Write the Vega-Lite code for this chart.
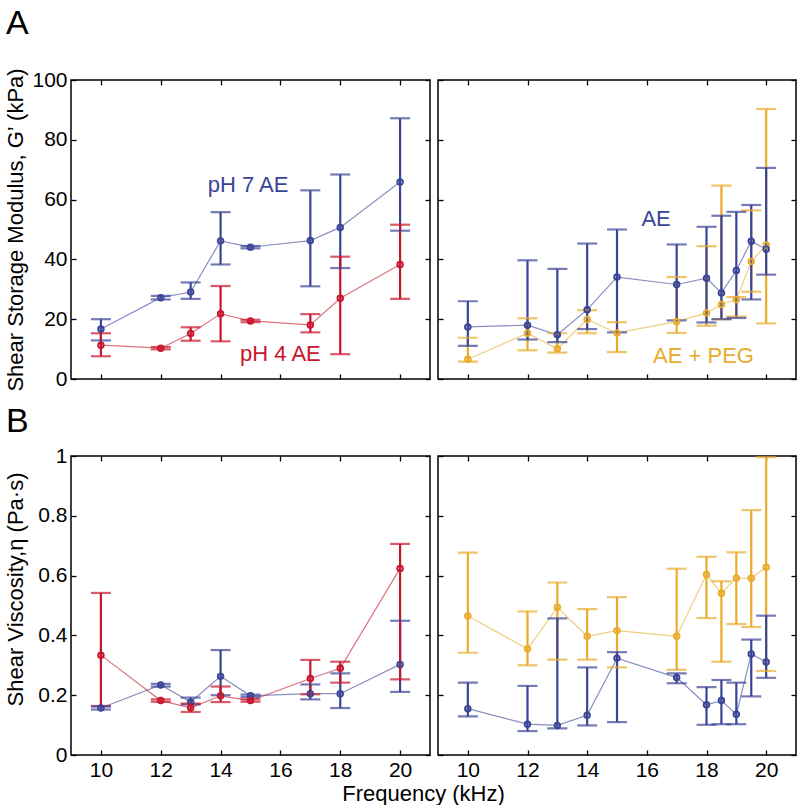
{
  "$schema": "https://vega.github.io/schema/vega-lite/v6.json",
  "background": "white",
  "padding": {"left": 3, "top": 6, "right": 0, "bottom": 0},
  "columns": 2,
  "spacing": {"row": 77, "column": 8},
  "bounds": "flush",
  "datasets": {
    "tl": [
      {"series": "pH 7 AE", "f": 10, "v": 16.7, "lo": 12.9, "hi": 20},
      {"series": "pH 7 AE", "f": 12, "v": 27.2, "lo": 26.6, "hi": 27.8},
      {"series": "pH 7 AE", "f": 13, "v": 29.1, "lo": 26.8, "hi": 32.3},
      {"series": "pH 7 AE", "f": 14, "v": 46.2, "lo": 38.3, "hi": 55.8},
      {"series": "pH 7 AE", "f": 15, "v": 44.1, "lo": 43.7, "hi": 44.5},
      {"series": "pH 7 AE", "f": 17, "v": 46.3, "lo": 31, "hi": 63.1},
      {"series": "pH 7 AE", "f": 18, "v": 50.7, "lo": 37.1, "hi": 68.4},
      {"series": "pH 7 AE", "f": 20, "v": 65.9, "lo": 49.6, "hi": 87.2},
      {"series": "pH 4 AE", "f": 10, "v": 11.3, "lo": 7.6, "hi": 15.3},
      {"series": "pH 4 AE", "f": 12, "v": 10.3, "lo": 9.9, "hi": 10.7},
      {"series": "pH 4 AE", "f": 13, "v": 15.2, "lo": 12.8, "hi": 17.3},
      {"series": "pH 4 AE", "f": 14, "v": 21.8, "lo": 12.6, "hi": 31.1},
      {"series": "pH 4 AE", "f": 15, "v": 19.4, "lo": 19, "hi": 19.8},
      {"series": "pH 4 AE", "f": 17, "v": 18.1, "lo": 15.6, "hi": 21.7},
      {"series": "pH 4 AE", "f": 18, "v": 27, "lo": 8.3, "hi": 40.9},
      {"series": "pH 4 AE", "f": 20, "v": 38.3, "lo": 26.8, "hi": 51.6}
    ],
    "tr": [
      {"series": "AE + PEG", "f": 10, "v": 6.6, "lo": 5.8, "hi": 13.8},
      {"series": "AE + PEG", "f": 12, "v": 15.3, "lo": 9.6, "hi": 20.3},
      {"series": "AE + PEG", "f": 13, "v": 10.1, "lo": 8.8, "hi": 15.3},
      {"series": "AE + PEG", "f": 14, "v": 19.9, "lo": 15.3, "hi": 23},
      {"series": "AE + PEG", "f": 15, "v": 15.4, "lo": 9, "hi": 19},
      {"series": "AE + PEG", "f": 17, "v": 19.2, "lo": 15.4, "hi": 34.1},
      {"series": "AE + PEG", "f": 18, "v": 22.1, "lo": 17.8, "hi": 44.4},
      {"series": "AE + PEG", "f": 18.5, "v": 24.9, "lo": 20, "hi": 64.7},
      {"series": "AE + PEG", "f": 19, "v": 26.6, "lo": 20.9, "hi": 27.4},
      {"series": "AE + PEG", "f": 19.5, "v": 39.3, "lo": 29.2, "hi": 56.4},
      {"series": "AE + PEG", "f": 20, "v": 44.8, "lo": 18.6, "hi": 90.3},
      {"series": "AE", "f": 10, "v": 17.4, "lo": 11.1, "hi": 26},
      {"series": "AE", "f": 12, "v": 18, "lo": 13.2, "hi": 39.7},
      {"series": "AE", "f": 13, "v": 14.8, "lo": 12.3, "hi": 36.8},
      {"series": "AE", "f": 14, "v": 23.2, "lo": 16.7, "hi": 45.3},
      {"series": "AE", "f": 15, "v": 34.1, "lo": 15.6, "hi": 50},
      {"series": "AE", "f": 17, "v": 31.6, "lo": 19.6, "hi": 45},
      {"series": "AE", "f": 18, "v": 33.7, "lo": 18.9, "hi": 50.9},
      {"series": "AE", "f": 18.5, "v": 28.8, "lo": 20, "hi": 54.6},
      {"series": "AE", "f": 19, "v": 36.3, "lo": 20.4, "hi": 55.9},
      {"series": "AE", "f": 19.5, "v": 46.1, "lo": 26.6, "hi": 58.2},
      {"series": "AE", "f": 20, "v": 43.4, "lo": 34.9, "hi": 70.6}
    ],
    "bl": [
      {"series": "pH 7 AE", "f": 10, "v": 0.157, "lo": 0.152, "hi": 0.162},
      {"series": "pH 7 AE", "f": 12, "v": 0.234, "lo": 0.229, "hi": 0.238},
      {"series": "pH 7 AE", "f": 13, "v": 0.177, "lo": 0.169, "hi": 0.192},
      {"series": "pH 7 AE", "f": 14, "v": 0.263, "lo": 0.2, "hi": 0.351},
      {"series": "pH 7 AE", "f": 15, "v": 0.198, "lo": 0.194, "hi": 0.202},
      {"series": "pH 7 AE", "f": 17, "v": 0.205, "lo": 0.186, "hi": 0.236},
      {"series": "pH 7 AE", "f": 18, "v": 0.205, "lo": 0.157, "hi": 0.273},
      {"series": "pH 7 AE", "f": 20, "v": 0.303, "lo": 0.211, "hi": 0.449},
      {"series": "pH 4 AE", "f": 10, "v": 0.334, "lo": 0.164, "hi": 0.542},
      {"series": "pH 4 AE", "f": 12, "v": 0.182, "lo": 0.178, "hi": 0.186},
      {"series": "pH 4 AE", "f": 13, "v": 0.158, "lo": 0.144, "hi": 0.172},
      {"series": "pH 4 AE", "f": 14, "v": 0.198, "lo": 0.177, "hi": 0.229},
      {"series": "pH 4 AE", "f": 15, "v": 0.182, "lo": 0.178, "hi": 0.186},
      {"series": "pH 4 AE", "f": 17, "v": 0.256, "lo": 0.203, "hi": 0.318},
      {"series": "pH 4 AE", "f": 18, "v": 0.29, "lo": 0.242, "hi": 0.312},
      {"series": "pH 4 AE", "f": 20, "v": 0.624, "lo": 0.253, "hi": 0.706}
    ],
    "br": [
      {"series": "AE + PEG", "f": 10, "v": 0.465, "lo": 0.342, "hi": 0.677},
      {"series": "AE + PEG", "f": 12, "v": 0.355, "lo": 0.3, "hi": 0.48},
      {"series": "AE + PEG", "f": 13, "v": 0.494, "lo": 0.319, "hi": 0.577},
      {"series": "AE + PEG", "f": 14, "v": 0.397, "lo": 0.319, "hi": 0.488},
      {"series": "AE + PEG", "f": 15, "v": 0.416, "lo": 0.293, "hi": 0.528},
      {"series": "AE + PEG", "f": 17, "v": 0.397, "lo": 0.285, "hi": 0.623},
      {"series": "AE + PEG", "f": 18, "v": 0.604, "lo": 0.458, "hi": 0.663},
      {"series": "AE + PEG", "f": 18.5, "v": 0.541, "lo": 0.312, "hi": 0.581},
      {"series": "AE + PEG", "f": 19, "v": 0.592, "lo": 0.438, "hi": 0.678},
      {"series": "AE + PEG", "f": 19.5, "v": 0.591, "lo": 0.428, "hi": 0.819},
      {"series": "AE + PEG", "f": 20, "v": 0.628, "lo": 0.281, "hi": 0.996},
      {"series": "AE", "f": 10, "v": 0.155, "lo": 0.129, "hi": 0.242},
      {"series": "AE", "f": 12, "v": 0.103, "lo": 0.08, "hi": 0.231},
      {"series": "AE", "f": 13, "v": 0.099, "lo": 0.089, "hi": 0.457},
      {"series": "AE", "f": 14, "v": 0.133, "lo": 0.099, "hi": 0.293},
      {"series": "AE", "f": 15, "v": 0.324, "lo": 0.11, "hi": 0.344},
      {"series": "AE", "f": 17, "v": 0.259, "lo": 0.24, "hi": 0.273},
      {"series": "AE", "f": 18, "v": 0.168, "lo": 0.101, "hi": 0.227},
      {"series": "AE", "f": 18.5, "v": 0.182, "lo": 0.103, "hi": 0.251},
      {"series": "AE", "f": 19, "v": 0.136, "lo": 0.103, "hi": 0.242},
      {"series": "AE", "f": 19.5, "v": 0.338, "lo": 0.196, "hi": 0.386},
      {"series": "AE", "f": 20, "v": 0.311, "lo": 0.258, "hi": 0.466}
    ],
    "tl_lab": [
      {"series": "pH 7 AE", "f": 14.92, "v": 62.7},
      {"series": "pH 4 AE", "f": 16.0, "v": 6}
    ],
    "tr_lab": [
      {"series": "AE", "f": 16.31, "v": 51.3},
      {"series": "AE + PEG", "f": 17.9, "v": 5.3}
    ]
  },
  "concat": [
    {
      "width": 359, "height": 299,
      "data": {"name": "tl"},
      "title": {"text": "A", "anchor": "start", "frame": "group", "dx": -65, "offset": -1, "baseline": "alphabetic", "fontSize": 34, "fontWeight": "normal", "color": "black"},
      "resolve": {"axis": {"x": "independent", "y": "independent"}},
      "layer": [
        {"mark": {"type": "line", "strokeWidth": 1.2, "opacity": 0.6},
         "encoding": {
           "x": {"field": "f", "type": "quantitative", "scale": {"domain": [9, 21], "nice": false, "zero": false}, "axis": {"orient": "top", "values": [10, 12, 14, 16, 18, 20], "labels": false, "title": null}},
           "y": {"field": "v", "type": "quantitative", "scale": {"domain": [0, 100], "nice": false, "zero": false}, "axis": {"orient": "right", "values": [0, 20, 40, 60, 80, 100], "labels": false, "title": null}},
           "color": {"field": "series", "type": "nominal", "scale": {"domain": ["pH 7 AE", "pH 4 AE", "AE", "AE + PEG"], "range": ["#3a4496", "#c8152b", "#3a4496", "#e8ab2c"]}, "legend": null}}},
        {"mark": {"type": "rule", "strokeWidth": 2.2},
         "encoding": {
           "x": {"field": "f", "type": "quantitative", "axis": {"orient": "bottom", "values": [10, 12, 14, 16, 18, 20], "labels": false, "title": null}},
           "y": {"field": "lo", "type": "quantitative", "axis": {"orient": "left", "values": [0, 20, 40, 60, 80, 100], "title": "Shear Storage Modulus, G’ (kPa)", "titleX": -49, "titleBaseline": "alphabetic"}},
           "y2": {"field": "hi"},
           "color": {"field": "series", "type": "nominal", "legend": null}}},
        {"mark": {"type": "tick", "orient": "horizontal", "size": 20, "thickness": 2.2},
         "encoding": {
           "x": {"field": "f", "type": "quantitative", "axis": null},
           "y": {"field": "lo", "type": "quantitative", "axis": null},
           "color": {"field": "series", "type": "nominal", "legend": null}}},
        {"mark": {"type": "tick", "orient": "horizontal", "size": 20, "thickness": 2.2},
         "encoding": {
           "x": {"field": "f", "type": "quantitative", "axis": null},
           "y": {"field": "hi", "type": "quantitative", "axis": null},
           "color": {"field": "series", "type": "nominal", "legend": null}}},
        {"mark": {"type": "point", "filled": true, "size": 32, "opacity": 0.35},
         "encoding": {
           "x": {"field": "f", "type": "quantitative", "axis": null},
           "y": {"field": "v", "type": "quantitative", "axis": null},
           "color": {"field": "series", "type": "nominal", "legend": null}}},
        {"mark": {"type": "point", "filled": false, "size": 32, "strokeWidth": 1.8, "opacity": 1},
         "encoding": {
           "x": {"field": "f", "type": "quantitative", "axis": null},
           "y": {"field": "v", "type": "quantitative", "axis": null},
           "color": {"field": "series", "type": "nominal", "legend": null}}},
        {"data": {"name": "tl_lab"},
         "mark": {"type": "text", "fontSize": 22, "baseline": "alphabetic", "align": "center"},
         "encoding": {
           "x": {"field": "f", "type": "quantitative", "axis": null},
           "y": {"field": "v", "type": "quantitative", "axis": null},
           "text": {"field": "series"},
           "color": {"field": "series", "type": "nominal", "legend": null}}}
      ]
    },
    {
      "width": 358, "height": 299,
      "data": {"name": "tr"},
      "resolve": {"axis": {"x": "independent", "y": "independent"}},
      "layer": [
        {"mark": {"type": "line", "strokeWidth": 1.2, "opacity": 0.6},
         "encoding": {
           "x": {"field": "f", "type": "quantitative", "scale": {"domain": [9, 21], "nice": false, "zero": false}, "axis": {"orient": "top", "values": [10, 12, 14, 16, 18, 20], "labels": false, "title": null}},
           "y": {"field": "v", "type": "quantitative", "scale": {"domain": [0, 100], "nice": false, "zero": false}, "axis": {"orient": "right", "values": [0, 20, 40, 60, 80, 100], "labels": false, "title": null}},
           "color": {"field": "series", "type": "nominal", "scale": {"domain": ["pH 7 AE", "pH 4 AE", "AE", "AE + PEG"], "range": ["#3a4496", "#c8152b", "#3a4496", "#e8ab2c"]}, "legend": null}}},
        {"mark": {"type": "rule", "strokeWidth": 2.2},
         "encoding": {
           "x": {"field": "f", "type": "quantitative", "axis": {"orient": "bottom", "values": [10, 12, 14, 16, 18, 20], "labels": false, "title": null}},
           "y": {"field": "lo", "type": "quantitative", "axis": {"orient": "left", "values": [0, 20, 40, 60, 80, 100], "labels": false, "title": null}},
           "y2": {"field": "hi"},
           "color": {"field": "series", "type": "nominal", "legend": null}}},
        {"mark": {"type": "tick", "orient": "horizontal", "size": 20, "thickness": 2.2},
         "encoding": {
           "x": {"field": "f", "type": "quantitative", "axis": null},
           "y": {"field": "lo", "type": "quantitative", "axis": null},
           "color": {"field": "series", "type": "nominal", "legend": null}}},
        {"mark": {"type": "tick", "orient": "horizontal", "size": 20, "thickness": 2.2},
         "encoding": {
           "x": {"field": "f", "type": "quantitative", "axis": null},
           "y": {"field": "hi", "type": "quantitative", "axis": null},
           "color": {"field": "series", "type": "nominal", "legend": null}}},
        {"mark": {"type": "point", "filled": true, "size": 32, "opacity": 0.35},
         "encoding": {
           "x": {"field": "f", "type": "quantitative", "axis": null},
           "y": {"field": "v", "type": "quantitative", "axis": null},
           "color": {"field": "series", "type": "nominal", "legend": null}}},
        {"mark": {"type": "point", "filled": false, "size": 32, "strokeWidth": 1.8, "opacity": 1},
         "encoding": {
           "x": {"field": "f", "type": "quantitative", "axis": null},
           "y": {"field": "v", "type": "quantitative", "axis": null},
           "color": {"field": "series", "type": "nominal", "legend": null}}},
        {"data": {"name": "tr_lab"},
         "mark": {"type": "text", "fontSize": 22, "baseline": "alphabetic", "align": "center"},
         "encoding": {
           "x": {"field": "f", "type": "quantitative", "axis": null},
           "y": {"field": "v", "type": "quantitative", "axis": null},
           "text": {"field": "series"},
           "color": {"field": "series", "type": "nominal", "legend": null}}}
      ]
    },
    {
      "width": 359, "height": 299,
      "data": {"name": "bl"},
      "title": {"text": "B", "anchor": "start", "frame": "group", "dx": -65, "offset": -21, "baseline": "alphabetic", "fontSize": 34, "fontWeight": "normal", "color": "black"},
      "resolve": {"axis": {"x": "independent", "y": "independent"}},
      "layer": [
        {"mark": {"type": "line", "strokeWidth": 1.2, "opacity": 0.6},
         "encoding": {
           "x": {"field": "f", "type": "quantitative", "scale": {"domain": [9, 21], "nice": false, "zero": false}, "axis": {"orient": "top", "values": [10, 12, 14, 16, 18, 20], "labels": false, "title": null}},
           "y": {"field": "v", "type": "quantitative", "scale": {"domain": [0, 1], "nice": false, "zero": false}, "axis": {"orient": "right", "values": [0, 0.2, 0.4, 0.6, 0.8, 1], "labels": false, "title": null}},
           "color": {"field": "series", "type": "nominal", "scale": {"domain": ["pH 7 AE", "pH 4 AE", "AE", "AE + PEG"], "range": ["#3a4496", "#c8152b", "#3a4496", "#e8ab2c"]}, "legend": null}}},
        {"mark": {"type": "rule", "strokeWidth": 2.2},
         "encoding": {
           "x": {"field": "f", "type": "quantitative", "axis": {"orient": "bottom", "values": [10, 12, 14, 16, 18, 20], "title": "Frequency (kHz)", "titleX": 352, "titleY": 45, "titleAlign": "center", "titleBaseline": "alphabetic"}},
           "y": {"field": "lo", "type": "quantitative", "axis": {"orient": "left", "values": [0, 0.2, 0.4, 0.6, 0.8, 1], "format": "~g", "title": "Shear Viscosity,η (Pa·s)", "titleX": -49, "titleY": 133, "titleBaseline": "alphabetic"}},
           "y2": {"field": "hi"},
           "color": {"field": "series", "type": "nominal", "legend": null}}},
        {"mark": {"type": "tick", "orient": "horizontal", "size": 20, "thickness": 2.2},
         "encoding": {
           "x": {"field": "f", "type": "quantitative", "axis": null},
           "y": {"field": "lo", "type": "quantitative", "axis": null},
           "color": {"field": "series", "type": "nominal", "legend": null}}},
        {"mark": {"type": "tick", "orient": "horizontal", "size": 20, "thickness": 2.2},
         "encoding": {
           "x": {"field": "f", "type": "quantitative", "axis": null},
           "y": {"field": "hi", "type": "quantitative", "axis": null},
           "color": {"field": "series", "type": "nominal", "legend": null}}},
        {"mark": {"type": "point", "filled": true, "size": 32, "opacity": 0.35},
         "encoding": {
           "x": {"field": "f", "type": "quantitative", "axis": null},
           "y": {"field": "v", "type": "quantitative", "axis": null},
           "color": {"field": "series", "type": "nominal", "legend": null}}},
        {"mark": {"type": "point", "filled": false, "size": 32, "strokeWidth": 1.8, "opacity": 1},
         "encoding": {
           "x": {"field": "f", "type": "quantitative", "axis": null},
           "y": {"field": "v", "type": "quantitative", "axis": null},
           "color": {"field": "series", "type": "nominal", "legend": null}}}
      ]
    },
    {
      "width": 358, "height": 299,
      "data": {"name": "br"},
      "resolve": {"axis": {"x": "independent", "y": "independent"}},
      "layer": [
        {"mark": {"type": "line", "strokeWidth": 1.2, "opacity": 0.6},
         "encoding": {
           "x": {"field": "f", "type": "quantitative", "scale": {"domain": [9, 21], "nice": false, "zero": false}, "axis": {"orient": "top", "values": [10, 12, 14, 16, 18, 20], "labels": false, "title": null}},
           "y": {"field": "v", "type": "quantitative", "scale": {"domain": [0, 1], "nice": false, "zero": false}, "axis": {"orient": "right", "values": [0, 0.2, 0.4, 0.6, 0.8, 1], "labels": false, "title": null}},
           "color": {"field": "series", "type": "nominal", "scale": {"domain": ["pH 7 AE", "pH 4 AE", "AE", "AE + PEG"], "range": ["#3a4496", "#c8152b", "#3a4496", "#e8ab2c"]}, "legend": null}}},
        {"mark": {"type": "rule", "strokeWidth": 2.2},
         "encoding": {
           "x": {"field": "f", "type": "quantitative", "axis": {"orient": "bottom", "values": [10, 12, 14, 16, 18, 20], "title": null}},
           "y": {"field": "lo", "type": "quantitative", "axis": {"orient": "left", "values": [0, 0.2, 0.4, 0.6, 0.8, 1], "labels": false, "title": null}},
           "y2": {"field": "hi"},
           "color": {"field": "series", "type": "nominal", "legend": null}}},
        {"mark": {"type": "tick", "orient": "horizontal", "size": 20, "thickness": 2.2},
         "encoding": {
           "x": {"field": "f", "type": "quantitative", "axis": null},
           "y": {"field": "lo", "type": "quantitative", "axis": null},
           "color": {"field": "series", "type": "nominal", "legend": null}}},
        {"mark": {"type": "tick", "orient": "horizontal", "size": 20, "thickness": 2.2},
         "encoding": {
           "x": {"field": "f", "type": "quantitative", "axis": null},
           "y": {"field": "hi", "type": "quantitative", "axis": null},
           "color": {"field": "series", "type": "nominal", "legend": null}}},
        {"mark": {"type": "point", "filled": true, "size": 32, "opacity": 0.35},
         "encoding": {
           "x": {"field": "f", "type": "quantitative", "axis": null},
           "y": {"field": "v", "type": "quantitative", "axis": null},
           "color": {"field": "series", "type": "nominal", "legend": null}}},
        {"mark": {"type": "point", "filled": false, "size": 32, "strokeWidth": 1.8, "opacity": 1},
         "encoding": {
           "x": {"field": "f", "type": "quantitative", "axis": null},
           "y": {"field": "v", "type": "quantitative", "axis": null},
           "color": {"field": "series", "type": "nominal", "legend": null}}}
      ]
    }
  ],
  "config": {
    "font": "Liberation Sans",
    "view": {"stroke": "black", "strokeWidth": 1.5},
    "axis": {"domain": false, "grid": false, "ticks": true, "tickColor": "black", "tickSize": -5, "tickWidth": 1.3, "labelPadding": 9, "labelFontSize": 21, "labelColor": "black", "labelFont": "Liberation Sans", "titleFont": "Liberation Sans", "titleFontSize": 22, "titleColor": "black", "titleFontWeight": "normal"},
    "title": {"font": "Liberation Sans"}
  }
}
